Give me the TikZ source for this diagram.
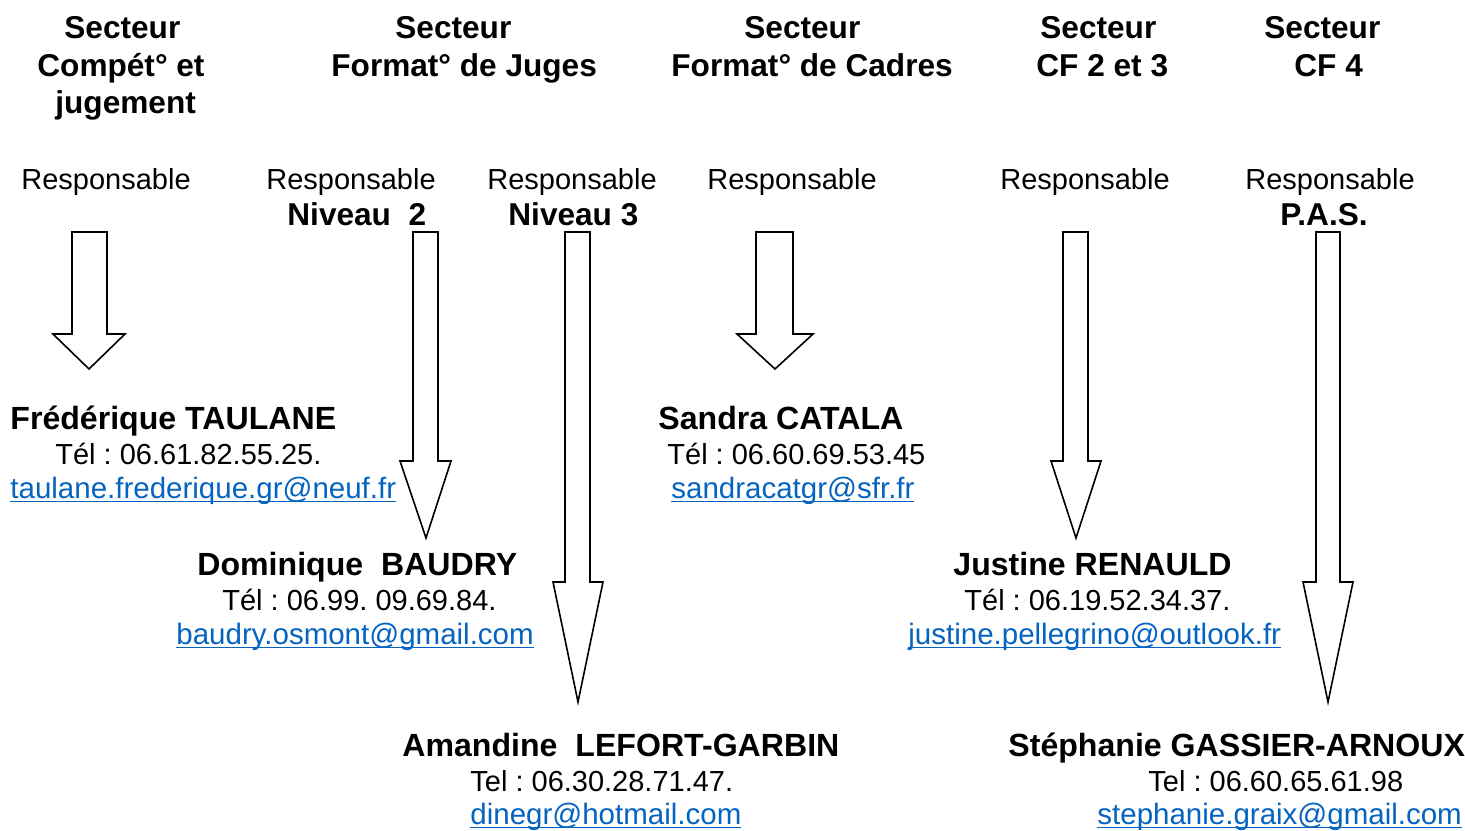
\documentclass[tikz,border=0pt]{standalone}
\usepackage{fontspec}
\setmainfont{Liberation Sans}
\definecolor{linkblue}{HTML}{0563C1}
\newcommand\ulk[1]{\setbox0\hbox{#1}\rlap{\rule[-0.15em]{\wd0}{0.065em}}\box0}
\tikzset{
  hd/.style={anchor=base west, inner sep=0pt, font=\frenchspacing\fontsize{15.8}{18}\selectfont\bfseries},
  nm/.style={hd, font=\frenchspacing\fontsize{16.05}{18}\selectfont\bfseries},
  tx/.style={anchor=base west, inner sep=0pt, font=\frenchspacing\fontsize{14.5}{17}\selectfont},
  lk/.style={tx, text=linkblue, font=\frenchspacing\fontsize{14.75}{17}\selectfont},
  barrow/.style={draw=black, line width=0.8pt, fill=white, line join=miter}
}
\begin{document}
\begin{tikzpicture}[x=0.5pt,y=-0.5pt]
\path[use as bounding box, fill=white] (0,0) rectangle (1465,830);

% Headings
\node[hd] (h1a) at (64,39) {Secteur};
\node[hd] (h1b) at (37,76) {Compét° et};
\node[hd] (h1c) at (55,113) {jugement};
\node[hd] (h2a) at (395,39) {Secteur};
\node[hd] (h2b) at (331,76) {Format° de Juges};
\node[hd] (h3a) at (744,39) {Secteur};
\node[hd] (h3b) at (671,76) {Format° de Cadres};
\node[hd] (h4a) at (1040,39) {Secteur};
\node[hd] (h4b) at (1036,76) {CF 2 et 3};
\node[hd] (h5a) at (1264,39) {Secteur};
\node[hd] (h5b) at (1294,76) {CF 4};

% Responsable labels
\node[tx] (r1) at (21,189) {Responsable};
\node[tx] (r2) at (266,189) {Responsable};
\node[hd] (r2b) at (287,225) {Niveau\ \ 2};
\node[tx] (r3) at (487,189) {Responsable};
\node[hd] (r3b) at (508,225) {Niveau 3};
\node[tx] (r4) at (707,189) {Responsable};
\node[tx] (r5) at (1000,189) {Responsable};
\node[tx] (r6) at (1245,189) {Responsable};
\node[hd] (r6b) at (1280,225) {P.A.S.};

% Arrows
\draw[barrow] (72,232) -- (107,232) -- (107,334) -- (125,334) -- (89,369) -- (53,334) -- (72,334) -- cycle;
\draw[barrow] (413,232) -- (438,232) -- (438,461) -- (451,461) -- (426,538) -- (400,461) -- (413,461) -- cycle;
\draw[barrow] (565,232) -- (590,232) -- (590,582) -- (603,582) -- (578,702) -- (553,582) -- (565,582) -- cycle;
\draw[barrow] (756,232) -- (793,232) -- (793,334) -- (813,334) -- (775,369) -- (737,334) -- (756,334) -- cycle;
\draw[barrow] (1063,232) -- (1088,232) -- (1088,461) -- (1101,461) -- (1076,538) -- (1051,461) -- (1063,461) -- cycle;
\draw[barrow] (1316,232) -- (1340,232) -- (1340,582) -- (1353,582) -- (1328,702) -- (1303,582) -- (1316,582) -- cycle;

% People
\node[nm] (n1) at (10,429) {Frédérique TAULANE};
\node[tx] (t1) at (55,464) {Tél : 06.61.82.55.25.};
\node[lk] (e1) at (10,498) {\ulk{taulane.frederique.gr@neuf.fr}};

\node[nm] (n4) at (658,429) {Sandra CATALA};
\node[tx] (t4) at (667,464) {Tél : 06.60.69.53.45};
\node[lk] (e4) at (671,498) {\ulk{sandracatgr@sfr.fr}};

\node[nm] (n2) at (197,575) {Dominique\ \ BAUDRY};
\node[tx] (t2) at (222,610) {Tél : 06.99. 09.69.84.};
\node[lk] (e2) at (176,644) {\ulk{baudry.osmont@gmail.com}};

\node[nm] (n5) at (953,575) {Justine RENAULD};
\node[tx] (t5) at (964,610) {Tél : 06.19.52.34.37.};
\node[lk] (e5) at (908,644) {\ulk{justine.pellegrino@outlook.fr}};

\node[nm] (n3) at (402,756) {Amandine\ \ LEFORT-GARBIN};
\node[tx] (t3) at (470,791) {Tel : 06.30.28.71.47.};
\node[lk] (e3) at (470,824) {\ulk{dinegr@hotmail.com}};

\node[nm] (n6) at (1008,756) {Stéphanie GASSIER-ARNOUX};
\node[tx] (t6) at (1148,791) {Tel : 06.60.65.61.98};
\node[lk] (e6) at (1097,824) {\ulk{stephanie.graix@gmail.com}};
\end{tikzpicture}
\end{document}
